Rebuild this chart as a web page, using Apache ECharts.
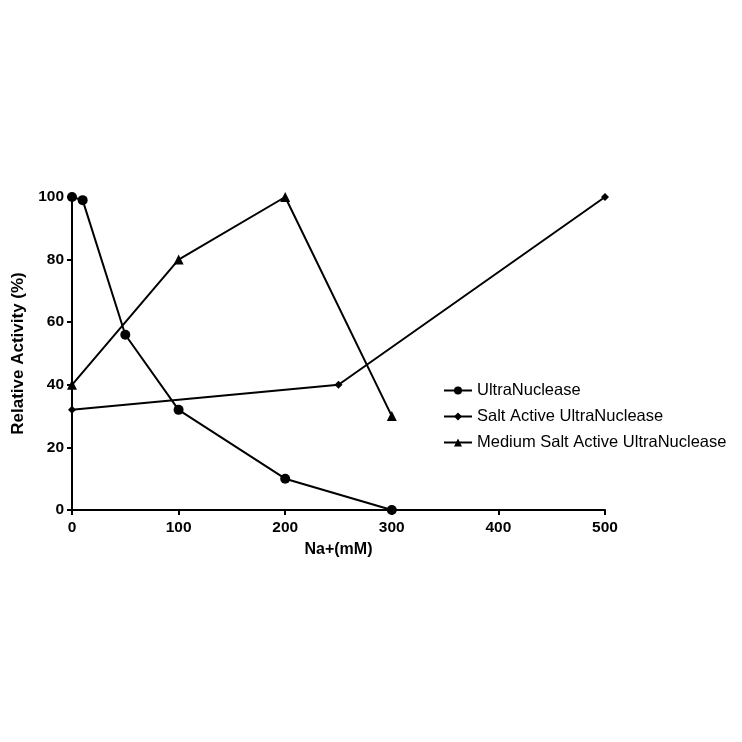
<!DOCTYPE html>
<html>
<head>
<meta charset="utf-8">
<script src="https://cdn.jsdelivr.net/npm/echarts@6/dist/echarts.min.js"></script>
<style>
  html, body { margin: 0; padding: 0; background: #fff; }
  #chart { width: 742px; height: 742px; }
</style>
</head>
<body>
<div id="chart"></div>
<script>
const ultraX = [0, 10, 50, 100, 200, 300];
const ultraY = [100, 99, 56, 32, 10, 0];
const saltX = [0, 250, 500];
const saltY = [32, 40, 100];
const mediumX = [0, 100, 200, 300];
const mediumY = [40, 80, 100, 30];

const pairs = (xs, ys) => xs.map((x, i) => [x, ys[i]]);

const chart = echarts.init(document.getElementById('chart'));

const axisFont = { color: '#000', fontFamily: 'Liberation Sans, Arial', fontWeight: 'bold', fontSize: 15.5 };
const lineStyle = { color: '#000', width: 2 };

const option = {
  animation: false,
  backgroundColor: '#fff',
  grid: { left: 72, right: 137, top: 197, bottom: 232, containLabel: false },
  legend: {
    orient: 'vertical',
    left: 438,
    top: 377,
    itemWidth: 28,
    itemHeight: 10,
    itemGap: 9,
    textStyle: { color: '#000', fontFamily: 'Liberation Sans, Arial', fontSize: 16.5 },
    data: ['UltraNuclease', 'Salt Active UltraNuclease', 'Medium Salt Active UltraNuclease']
  },
  xAxis: {
    type: 'value',
    min: 0,
    max: 500,
    interval: 100,
    name: 'Na+(mM)',
    nameLocation: 'middle',
    nameGap: 32,
    nameTextStyle: { color: '#000', fontFamily: 'Liberation Sans, Arial', fontWeight: 'bold', fontSize: 16 },
    axisLine: { lineStyle: lineStyle },
    axisTick: { show: true, length: 5, lineStyle: lineStyle },
    axisLabel: Object.assign({ margin: 10 }, axisFont),
    splitLine: { show: false }
  },
  yAxis: {
    type: 'value',
    min: 0,
    max: 100,
    interval: 20,
    name: 'Relative Activity (%)',
    nameLocation: 'middle',
    nameGap: 36,
    nameTextStyle: { color: '#000', fontFamily: 'Liberation Sans, Arial', fontWeight: 'bold', fontSize: 17 },
    axisLine: { show: true, lineStyle: lineStyle },
    axisTick: { show: true, length: 5, lineStyle: lineStyle },
    axisLabel: Object.assign({ margin: 8 }, axisFont),
    splitLine: { show: false }
  },
  series: [
    {
      name: 'UltraNuclease',
      type: 'line',
      data: pairs(ultraX, ultraY),
      symbol: 'circle',
      symbolSize: 10,
      lineStyle: lineStyle,
      itemStyle: { color: '#000' }
    },
    {
      name: 'Salt Active UltraNuclease',
      type: 'line',
      data: pairs(saltX, saltY),
      symbol: 'diamond',
      symbolSize: 8,
      lineStyle: lineStyle,
      itemStyle: { color: '#000' }
    },
    {
      name: 'Medium Salt Active UltraNuclease',
      type: 'line',
      data: pairs(mediumX, mediumY),
      symbol: 'triangle',
      symbolSize: 10,
      lineStyle: lineStyle,
      itemStyle: { color: '#000' }
    }
  ]
};

chart.setOption(option);
</script>
</body>
</html>
